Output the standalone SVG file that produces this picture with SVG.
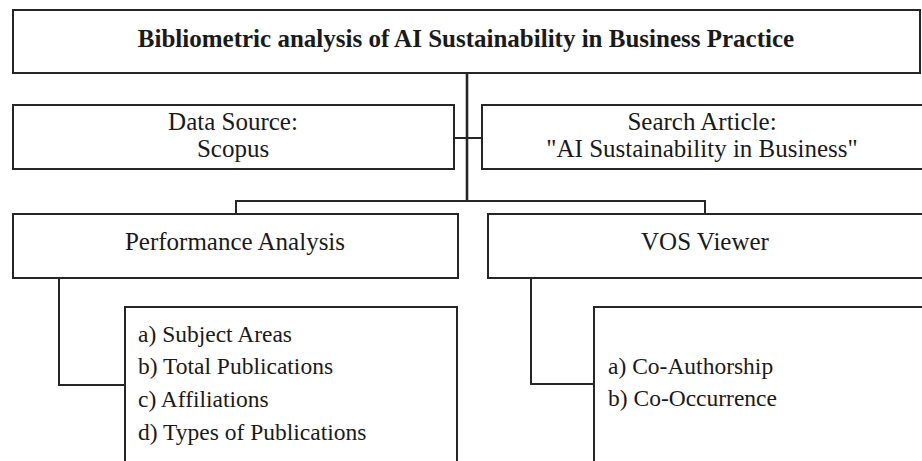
<svg xmlns="http://www.w3.org/2000/svg" width="922" height="461" viewBox="0 0 922 461">
<style>
.box{fill:#fff;stroke:#262626;stroke-width:2}
.ln{fill:none;stroke:#262626;stroke-width:2}
.t{font-family:"Liberation Serif","Times New Roman",serif;fill:#1a1a1a}
.m{font-size:25px;text-anchor:middle}
.b{font-weight:bold}
.l{font-size:23.5px}
</style>
<rect width="922" height="461" fill="#fff"/>
<g id="connectors">
<path class="ln" d="M467,73 V201" style="stroke-width:2.6"/>
<path class="ln" d="M454,138 H482"/>
<path class="ln" d="M236,214 V201 H705 V214"/>
<path class="ln" d="M59,278 V385 H125"/>
<path class="ln" d="M531,278 V384 H594"/>
</g>
<g id="title">
<rect class="box" x="13" y="10" width="907" height="63"/>
<text class="t m b" x="466" y="47">Bibliometric analysis of AI Sustainability in Business Practice</text>
</g>
<g id="data-source">
<rect class="box" x="13" y="105" width="441" height="64"/>
<text class="t m" x="233" y="130">Data Source:</text>
<text class="t m" x="233" y="157">Scopus</text>
</g>
<g id="search-article">
<rect class="box" x="482" y="105" width="450" height="64"/>
<text class="t m" x="702" y="130">Search Article:</text>
<text class="t m" x="702" y="157">"AI Sustainability in Business"</text>
</g>
<g id="performance">
<rect class="box" x="13" y="214" width="445" height="64"/>
<text class="t m" x="235" y="250">Performance Analysis</text>
</g>
<g id="vos">
<rect class="box" x="488" y="214" width="444" height="64"/>
<text class="t m" x="705" y="250">VOS Viewer</text>
</g>
<g id="performance-list">
<rect class="box" x="125" y="307" width="332" height="170"/>
<text class="t l" x="138" y="342">a) Subject Areas</text>
<text class="t l" x="138" y="374">b) Total Publications</text>
<text class="t l" x="138" y="407">c) Affiliations</text>
<text class="t l" x="138" y="440">d) Types of Publications</text>
</g>
<g id="vos-list">
<rect class="box" x="594" y="307" width="340" height="170"/>
<text class="t l" x="608" y="374">a) Co-Authorship</text>
<text class="t l" x="608" y="406">b) Co-Occurrence</text>
</g>
</svg>
